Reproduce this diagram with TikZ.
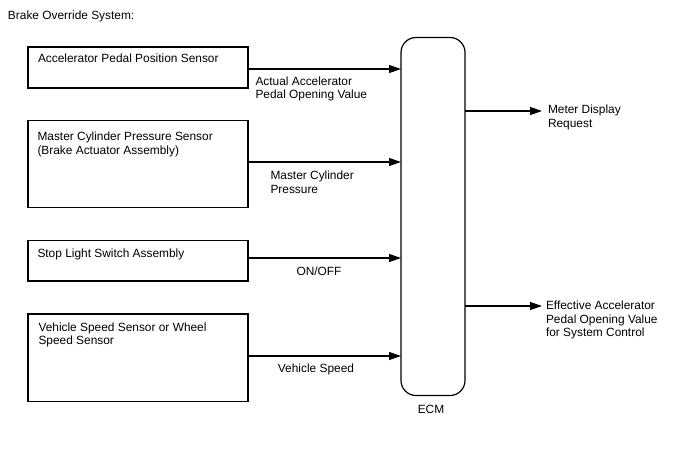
\documentclass[tikz,border=0pt]{standalone}
\usepackage{fontspec}
\setmainfont{Liberation Sans}
\usetikzlibrary{arrows.meta,calc}
\begin{document}
\begin{tikzpicture}[x=1pt,y=-1pt,
  every node/.style={font=\fontsize{11.9}{13.8}\selectfont, inner sep=0pt, outer sep=0pt},
  box/.style={draw, line width=1.2pt, anchor=north west, minimum width=220pt},
  lbl/.style={anchor=west, align=left},
  ecmbox/.style={draw, line width=1.2pt, rounded corners=15pt, anchor=north west, minimum width=64pt, minimum height=358pt},
  arr/.style={line width=1.2pt, -{Triangle[length=12pt,width=8pt]}}]
\useasboundingbox (0,0) rectangle (688,463);
\node[anchor=west] (title) at (8,16) {Brake Override System:};
% ECM
\node[ecmbox] (ecm) at (401,37.5) {};
\node (ecmlbl) at (431,409) {ECM};
% input boxes
\node[box, minimum height=41pt] (b1) at (28,47) {};
\node[lbl] (t1) at (38,58.5) {Accelerator Pedal Position Sensor};
\node[box, minimum height=87pt] (b2) at (28,120.5) {};
\node[lbl] (t2) at (37.5,144.5) {Master Cylinder Pressure Sensor\\(Brake Actuator Assembly)};
\node[box, minimum height=40.5pt] (b3) at (28,240.5) {};
\node[lbl] (t3) at (37.5,254) {Stop Light Switch Assembly};
\node[box, minimum height=87.5pt] (b4) at (28,314) {};
\node[lbl] (t4) at (38.5,335) {Vehicle Speed Sensor or Wheel\\Speed Sensor};
% input arrows
\coordinate (i1) at (248,69);
\coordinate (i2) at (248,162);
\coordinate (i3) at (248,258);
\coordinate (i4) at (248,356);
\draw[arr] (i1) -- (i1 -| ecm.west);
\draw[arr] (i2) -- (i2 -| ecm.west);
\draw[arr] (i3) -- (i3 -| ecm.west);
\draw[arr] (i4) -- (i4 -| ecm.west);
\node[lbl] (l1) at (255.5,89) {Actual Accelerator\\Pedal Opening Value};
\node[lbl] (l2) at (270.5,182.5) {Master Cylinder\\Pressure};
\node (l3) at (319,271.5) {ON/OFF};
\node (l4) at (316,369.5) {Vehicle Speed};
% outputs
\coordinate (o1) at (542,111);
\coordinate (o2) at (542,306);
\draw[arr] (o1 -| ecm.east) -- (o1);
\draw[arr] (o2 -| ecm.east) -- (o2);
\node[lbl] (r1) at (548,117.5) {Meter Display\\Request};
\node[lbl] (r2) at (546,320) {Effective Accelerator\\Pedal Opening Value\\for System Control};
\end{tikzpicture}
\end{document}
